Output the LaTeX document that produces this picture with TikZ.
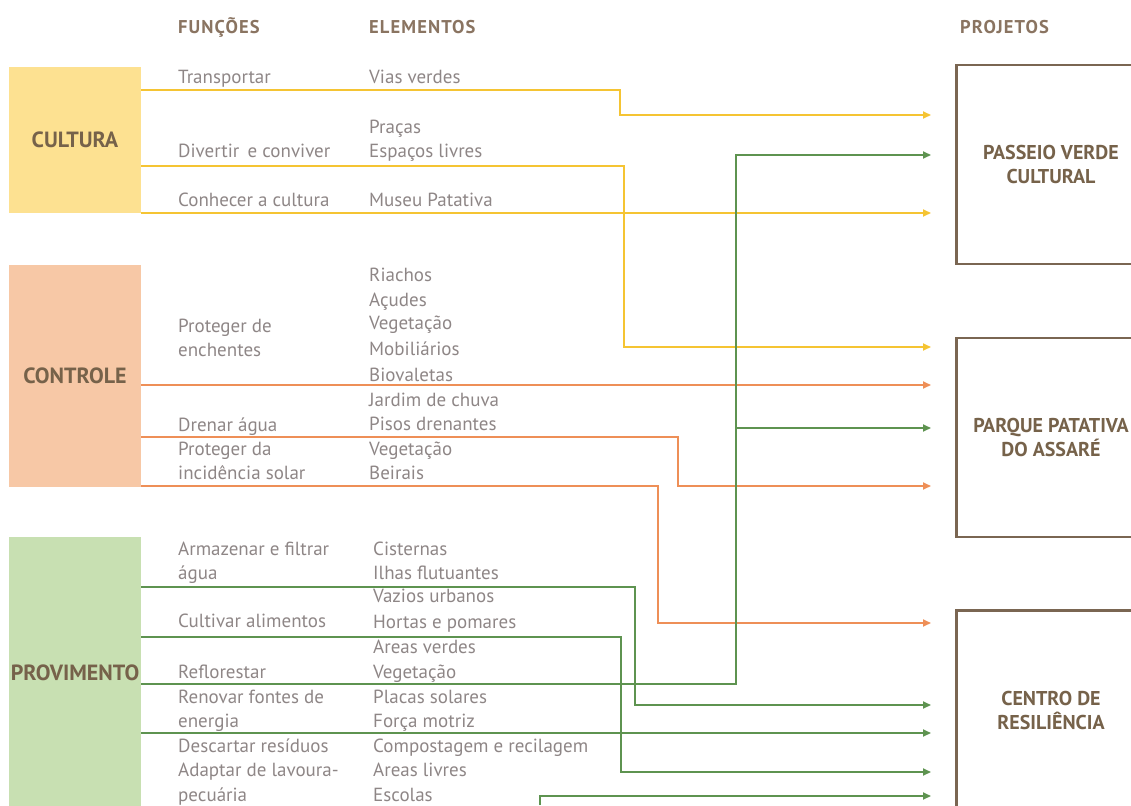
\documentclass[tikz,border=0pt]{standalone}
\usepackage{fontspec}
\setmainfont{PT Sans}
\usetikzlibrary{arrows.meta}

\definecolor{cultfill}{HTML}{FDE191}
\definecolor{ctrlfill}{HTML}{F7C8A6}
\definecolor{provfill}{HTML}{C8E0B2}
\definecolor{yline}{HTML}{F5C433}
\definecolor{oline}{HTML}{EE8F57}
\definecolor{gline}{HTML}{5E9350}
\definecolor{projborder}{HTML}{7A6652}
\definecolor{bodytext}{HTML}{8E8686}
\definecolor{headtext}{HTML}{8A7461}
\definecolor{cattext}{HTML}{76624A}

\tikzset{
  txt/.style={anchor=mid west, inner sep=0pt, yshift=-3.5pt, text=bodytext,
    font=\fontsize{19}{22}\selectfont},
  head/.style={anchor=mid west, inner sep=0pt, yshift=-3.5pt, text=headtext,
    font=\fontsize{18.5}{22}\selectfont\bfseries\addfontfeature{LetterSpace=6}},
  catbox/.style={rectangle, inner sep=0pt, text=cattext,
    font=\fontsize{22}{26}\selectfont\bfseries},
  projbox/.style={rectangle, draw=projborder, line width=2.4pt, inner sep=0pt,
    minimum width=189pt, minimum height=199pt, align=center, text=cattext,
    font=\fontsize{20}{24}\selectfont\bfseries},
  link/.style={line width=1.7pt, -{Triangle[length=8pt,width=7pt]}},
  ylink/.style={link, yline},
  olink/.style={link, oline},
  glink/.style={link, gline},
}

\begin{document}
\begin{tikzpicture}[x=1pt, y=-1pt]
\useasboundingbox (0,0) rectangle (1131,805);

% column headings
\node[head] (hfun) at (178,28) {FUNÇÕES};
\node[head] (hele) at (369,28) {ELEMENTOS};
\node[head] (hpro) at (960,28) {PROJETOS};

\begin{scope}
\clip (0,0) rectangle (1131,805);
% category blocks
\node[catbox, fill=cultfill, minimum width=132pt, minimum height=146pt] (cult) at (75,140) {CULTURA};
\node[catbox, fill=ctrlfill, minimum width=132pt, minimum height=222pt] (ctrl) at (75,376) {CONTROLE};
\node[catbox, fill=provfill, minimum width=132pt, minimum height=272pt] (prov) at (75,673) {PROVIMENTO};
% project boxes
\node[projbox] (pv) at (1051,164.5) {PASSEIO VERDE\\CULTURAL};
\node[projbox] (pp) at (1051,437.5) {PARQUE PATATIVA\\DO ASSARÉ};
\node[projbox] (cr) at (1051,710) {CENTRO DE\\RESILIÊNCIA};
\end{scope}

% functions: cultura
\node[txt] (f1) at (178,78) {Transportar};
\node[txt] (f2) at (178,152) {Divertir\, e conviver};
\node[txt] (f3) at (178,200) {Conhecer a cultura};
% elements: cultura
\node[txt] (e1) at (369,78) {Vias verdes};
\node[txt] (e2) at (369,128) {Praças};
\node[txt] (e3) at (369,152) {Espaços livres};
\node[txt] (e4) at (369,200) {Museu Patativa};

% functions: controle
\node[txt] (f4a) at (178,326) {Proteger de};
\node[txt] (f4b) at (178,350) {enchentes};
\node[txt] (f5) at (178,425) {Drenar água};
\node[txt] (f6a) at (178,449) {Proteger da};
\node[txt] (f6b) at (178,473) {incidência solar};
% elements: controle
\node[txt] (e5) at (369,275) {Riachos};
\node[txt] (e6) at (369,300) {Açudes};
\node[txt] (e7) at (369,323) {Vegetação};
\node[txt] (e8) at (369,349) {Mobiliários};
\node[txt] (e9) at (369,375) {Biovaletas};
\node[txt] (e10) at (369,400) {Jardim de chuva};
\node[txt] (e11) at (369,424) {Pisos drenantes};
\node[txt] (e12) at (369,449) {Vegetação};
\node[txt] (e13) at (369,473) {Beirais};

% functions: provimento
\node[txt] (f7a) at (178,549) {Armazenar e filtrar};
\node[txt] (f7b) at (178,573) {água};
\node[txt] (f8) at (178,621) {Cultivar alimentos};
\node[txt] (f9) at (178,672) {Reflorestar};
\node[txt] (f10a) at (178,697) {Renovar fontes de};
\node[txt] (f10b) at (178,721) {energia};
\node[txt] (f11) at (178,746) {Descartar resíduos};
\node[txt] (f12a) at (178,770) {Adaptar de lavoura-};
\node[txt] (f12b) at (178,795) {pecuária};
% elements: provimento
\node[txt] (e14) at (373,549) {Cisternas};
\node[txt] (e15) at (373,573) {Ilhas flutuantes};
\node[txt] (e16) at (373,596) {Vazios urbanos};
\node[txt] (e17) at (373,622) {Hortas e pomares};
\node[txt] (e18) at (373,647) {Areas verdes};
\node[txt] (e19) at (373,672) {Vegetação};
\node[txt] (e20) at (373,697) {Placas solares};
\node[txt] (e21) at (373,721) {Força motriz};
\node[txt] (e22) at (373,746) {Compostagem e recilagem};
\node[txt] (e23) at (373,770) {Areas livres};
\node[txt] (e24) at (373,795) {Escolas};

% arrow targets in front of the project boxes
\coordinate (pv1) at (931,115);
\coordinate (pv2) at (931,155);
\coordinate (pv3) at (931,213);
\coordinate (pp1) at (931,347);
\coordinate (pp2) at (931,385);
\coordinate (pp3) at (931,428);
\coordinate (pp4) at (931,486);
\coordinate (cr1) at (931,623);
\coordinate (cr2) at (931,705);
\coordinate (cr3) at (931,733);
\coordinate (cr4) at (931,772);
\coordinate (cr5) at (931,796);
\coordinate (bottomend) at (540,805);

% cultura links
\draw[ylink] (cult.east |- 0,90) -| (620,115) -- (pv1);
\draw[ylink] (cult.east |- 0,166) -| (624,347) -- (pp1);
\draw[ylink] (cult.east |- 0,213) -- (pv3);

% controle links
\draw[olink] (ctrl.east |- 0,385) -- (pp2);
\draw[olink] (ctrl.east |- 0,437) -| (678,486) -- (pp4);
\draw[olink] (ctrl.east |- 0,486) -| (658,623) -- (cr1);

% provimento links
\draw[glink] (prov.east |- 0,587) -| (635,705) -- (cr2);
\draw[glink] (prov.east |- 0,637) -| (621,772) -- (cr4);
\draw[glink] (prov.east |- 0,684) -| (736,155) -- (pv2);
\draw[glink] (736,428) -- (pp3);
\draw[glink] (prov.east |- 0,733) -- (cr3);
\draw[glink] (bottomend) |- (cr5);
\end{tikzpicture}
\end{document}
